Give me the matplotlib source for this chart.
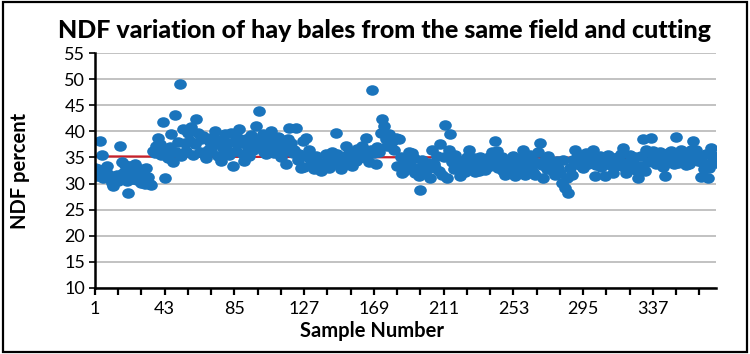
#%%
# NDF variation scatter (hay bales, same field and cutting)
import numpy as np
import matplotlib.pyplot as plt
from matplotlib.markers import MarkerStyle
from matplotlib.transforms import Affine2D
from matplotlib.patches import Rectangle

plt.rcParams['font.family'] = ['Lato', 'DejaVu Sans']

#%%
# data, one value per bale (sample 1..375)
ndf = [
    33.0, 31.5, 32.8, 38.2, 35.5, 31.0, 32.5, 33.3, 31.8, 30.8,
    30.1, 29.6, 31.0, 31.7, 30.5, 37.2, 34.2, 32.0, 33.5, 30.5,
    28.2, 33.3, 32.0, 30.8, 33.8, 30.7, 31.5, 32.8, 30.2, 31.7,
    30.0, 32.9, 31.3, 29.9, 29.8, 36.3, 35.8, 37.2, 38.8, 37.5,
    35.5, 41.8, 31.1, 36.4, 34.8, 37.0, 39.4, 34.2, 43.2, 36.0,
    38.0, 49.0, 35.2, 40.5, 37.8, 36.2, 39.7, 38.2, 40.8, 35.4,
    37.5, 42.3, 39.7, 36.0, 38.5, 39.1, 35.5, 34.9, 36.5, 38.0,
    36.2, 39.0, 40.1, 37.5, 35.2, 38.3, 34.3, 36.8, 39.5, 36.5,
    37.8, 35.5, 39.7, 33.3, 38.0, 36.3, 38.8, 40.4, 37.8, 35.6,
    34.3, 38.5, 37.0, 35.2, 39.3, 36.5, 38.0, 41.0, 38.5, 43.9,
    37.3, 39.4, 36.0, 35.6, 38.5, 37.2, 40.1, 37.5, 35.8, 36.5,
    39.0, 38.8, 35.0, 37.5, 36.2, 33.7, 38.5, 40.7, 37.8, 35.9,
    36.5, 40.7, 34.5, 35.6, 33.0, 38.1, 33.2, 38.8, 35.0, 36.4,
    34.6, 33.5, 32.8, 35.2, 34.3, 33.4, 32.4, 34.0, 33.0, 35.6,
    34.2, 33.0, 35.0, 36.0, 33.8, 39.7, 35.6, 34.5, 32.7, 34.8,
    33.6, 37.2, 35.5, 34.0, 36.0, 33.4, 35.6, 34.3, 36.6, 34.8,
    36.2, 37.2, 35.0, 38.8, 35.4, 34.2, 36.5, 48.0, 35.8, 33.7,
    37.0, 36.0, 39.7, 42.3, 41.0, 38.5, 37.2, 39.5, 37.8, 38.1,
    36.5, 38.8, 33.4, 38.5, 35.0, 32.1, 32.4, 34.5, 33.2, 36.0,
    33.6, 35.9, 34.8, 32.1, 33.0, 31.5, 28.7, 34.6, 33.2, 32.0,
    32.7, 34.0, 31.1, 36.5, 33.8, 33.0, 35.2, 32.5, 37.5, 31.7,
    35.0, 41.3, 31.1, 36.5, 39.4, 34.2, 32.8, 35.5, 33.0, 34.0,
    31.4, 33.6, 34.3, 32.2, 35.0, 36.5, 33.5, 33.0, 34.8, 32.2,
    33.8, 32.4, 35.0, 33.2, 34.0, 32.6, 34.7, 35.0, 33.3, 36.0,
    34.5, 38.1, 36.2, 33.0, 33.7, 35.0, 32.4, 31.7, 34.0, 34.3,
    32.5, 33.6, 35.3, 31.4, 34.0, 32.8, 33.4, 35.0, 36.5, 31.7,
    34.2, 33.0, 35.5, 34.6, 32.3, 31.7, 34.0, 36.0, 37.8, 33.5,
    31.1, 34.6, 32.8, 35.2, 33.3, 34.0, 32.5, 31.7, 34.3, 33.0,
    32.0, 30.2, 34.6, 29.2, 31.0, 28.2, 33.0, 31.7, 34.5, 36.5,
    35.0, 34.6, 33.5, 35.5, 33.0, 34.4, 35.8, 33.7, 35.2, 34.0,
    36.5, 31.4, 33.6, 35.0, 35.3, 33.2, 34.0, 31.4, 33.8, 35.5,
    34.3, 33.5, 32.1, 34.8, 33.4, 35.0, 34.2, 35.6, 36.9, 33.0,
    32.0, 34.0, 35.5, 34.6, 33.6, 35.0, 32.6, 31.1, 33.4, 35.2,
    38.6, 32.4, 36.5, 34.2, 35.8, 38.8, 36.2, 34.8, 33.7, 35.5,
    36.0, 35.0, 33.2, 31.4, 34.0, 35.8, 34.5, 36.2, 35.0, 33.8,
    38.9, 34.0, 35.0, 36.4, 34.6, 35.9, 33.6, 34.8, 33.7, 36.5,
    38.1, 35.0, 36.5, 34.3, 35.5, 31.2, 34.0, 32.8, 35.6, 31.1,
    33.0, 36.9, 34.5, 35.3, 34.0,
]
sample = np.arange(1, len(ndf) + 1)

# red trend line, start and end value
trend_x = [1, len(ndf)]
trend_y = [35.2, 34.85]

y_ticks = [10, 15, 20, 25, 30, 35, 40, 45, 50, 55]
x_labels = [1, 43, 85, 127, 169, 211, 253, 295, 337]

#%%
fig = plt.figure(figsize=(7.5, 3.54), dpi=100)
ax = fig.add_axes([95 / 750, 1 - 288 / 354, 621 / 750, 235 / 354])

# frame round the whole picture
fig.patches.append(Rectangle((0.004, 0.006), 0.992, 0.988, transform=fig.transFigure,
                             fill=False, edgecolor='black', linewidth=1.6))

ax.plot(trend_x, trend_y, color='#C8202A', linewidth=1.6, zorder=2)

# the bale markers come out a bit wider than tall
ell = MarkerStyle('o', transform=Affine2D().scale(1.2, 1.0))
ax.plot(sample, ndf, linestyle='none', marker=ell, markersize=7.6,
        color='#1A74BC', markeredgewidth=0, zorder=3)

ax.set_xlim(1, len(ndf))
ax.set_ylim(10, 55)
ax.set_yticks(y_ticks)
ax.set_xticks(x_labels)
ax.set_xticks(np.arange(1, len(ndf) + 1, 14), minor=True)

ax.grid(axis='y', color='#BDBDBD', linewidth=1.3, zorder=0)
ax.set_axisbelow(True)
for s in ['top', 'right']:
    ax.spines[s].set_visible(False)
for s in ['left', 'bottom']:
    ax.spines[s].set_linewidth(1.8)
    ax.spines[s].set_zorder(4)

ax.tick_params(axis='x', which='both', direction='out', length=5, width=1.6,
               labelsize=13, pad=4)
ax.tick_params(axis='y', direction='out', length=4, width=1.2, labelsize=13, pad=3)

ax.set_xlabel('Sample Number', fontsize=14.5, fontweight='bold')
ax.xaxis.set_label_coords((372 - 95) / 621, -0.14)
ax.set_ylabel('NDF percent', fontsize=14.5, fontweight='bold')
ax.yaxis.set_label_coords(-0.104, 0.5)

fig.text(384 / 750, 1 - 30 / 354, 'NDF variation of hay bales from the same field and cutting',
         ha='center', va='center', fontsize=18, fontweight='black')

plt.savefig('out.png', dpi=100)
